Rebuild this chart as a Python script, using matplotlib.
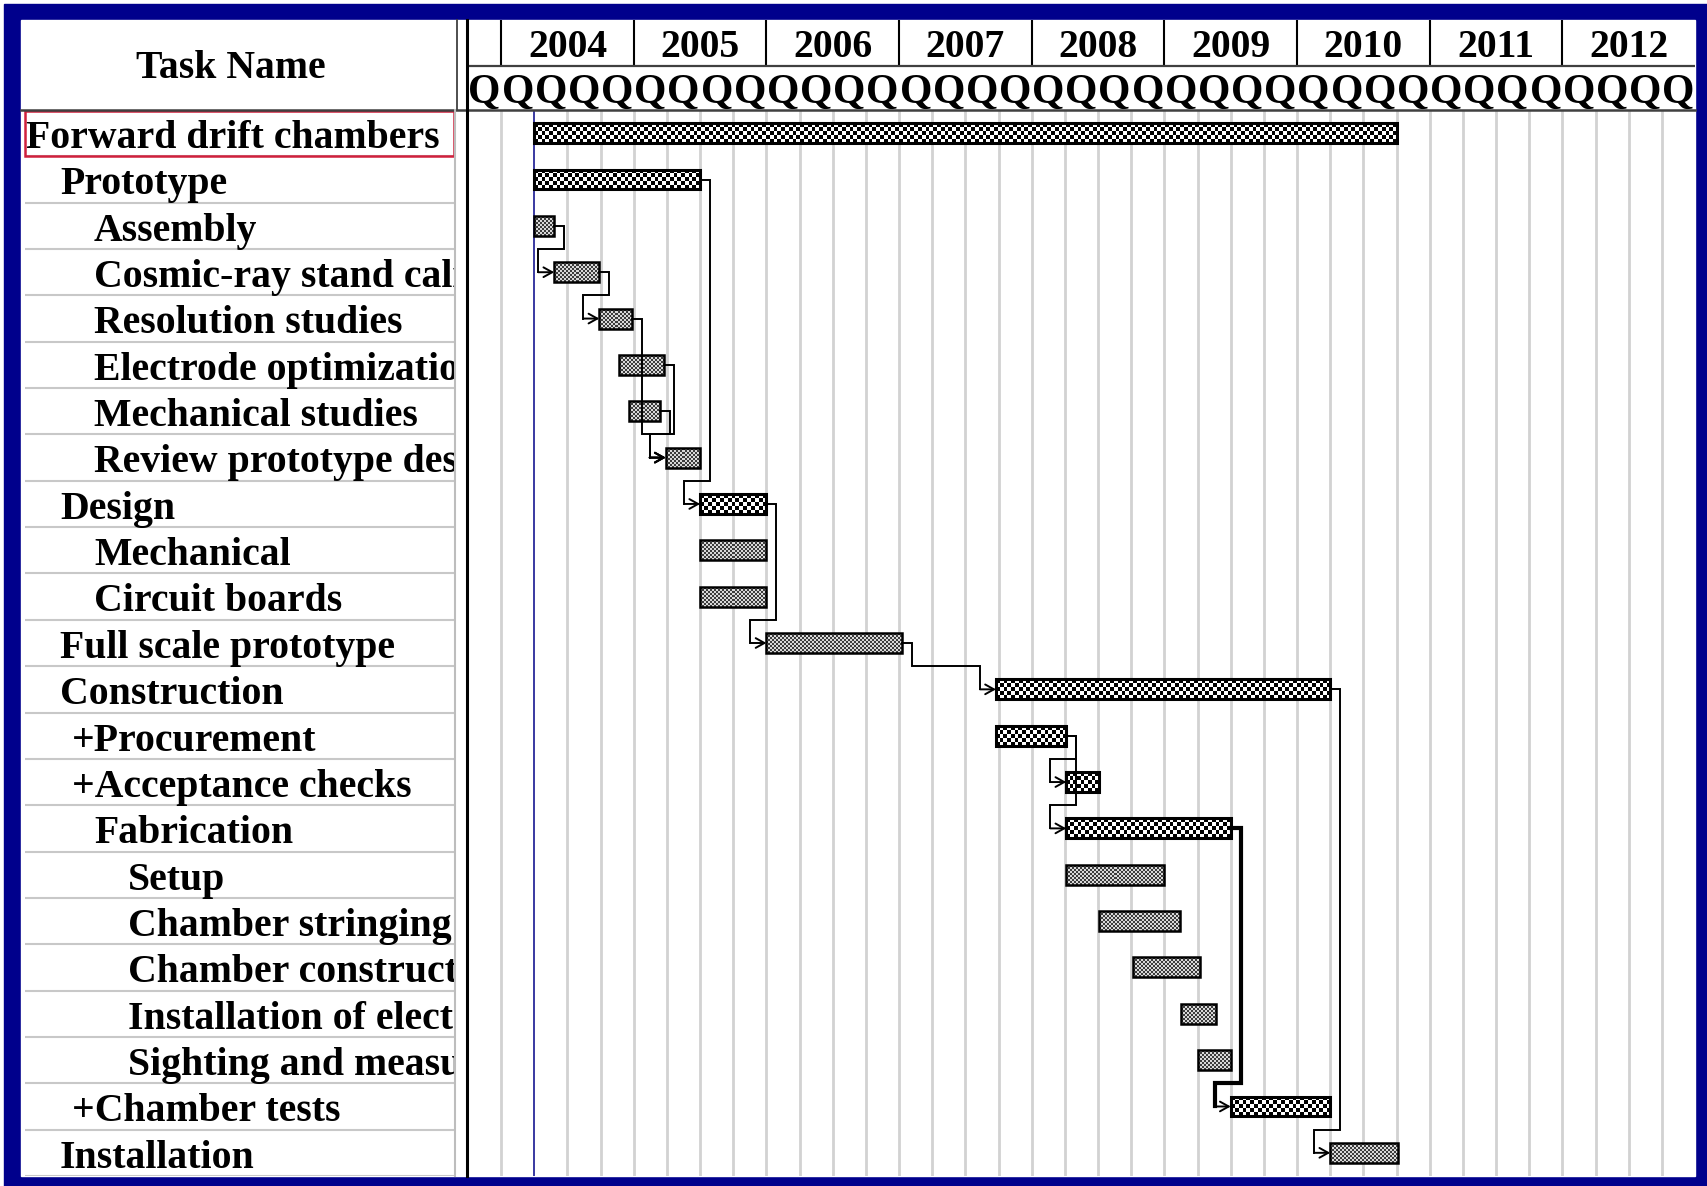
import numpy as np
import matplotlib
matplotlib.use("Agg")
import matplotlib.pyplot as plt
from matplotlib.patches import Rectangle
from matplotlib.lines import Line2D
from matplotlib.transforms import Affine2D

# ---------------- schedule data ----------------
task_names = [
    "Forward drift chambers", "Prototype", "Assembly", "Cosmic-ray stand calibration",
    "Resolution studies", "Electrode optimization", "Mechanical studies",
    "Review prototype design", "Design", "Mechanical", "Circuit boards",
    "Full scale prototype", "Construction", "+Procurement", "+Acceptance checks",
    "Fabrication", "Setup", "Chamber stringing", "Chamber construction",
    "Installation of electronics", "Sighting and measurements", "+Chamber tests",
    "Installation",
]
outline_level = [0, 1, 2, 2, 2, 2, 2, 2, 1, 2, 2, 1, 1, 2, 2, 2, 3, 3, 3, 3, 3, 2, 1]
is_summary = [1, 1, 0, 0, 0, 0, 0, 0, 1, 0, 0, 0, 1, 1, 1, 1, 0, 0, 0, 0, 0, 1, 0]
start_year = [2004.25, 2004.25, 2004.25, 2004.40, 2004.74, 2004.885, 2004.965,
              2005.24, 2005.50, 2005.50, 2005.50, 2006.00, 2007.73, 2007.73,
              2008.26, 2008.26, 2008.26, 2008.51, 2008.76, 2009.125, 2009.25,
              2009.50, 2010.25]
end_year = [2010.75, 2005.50, 2004.395, 2004.735, 2004.985, 2005.23, 2005.20,
            2005.50, 2006.00, 2006.00, 2006.00, 2007.02, 2010.25, 2008.26,
            2008.505, 2009.50, 2009.00, 2009.115, 2009.27, 2009.39, 2009.50,
            2010.25, 2010.76]
# finish-to-start dependencies (predecessor row, successor row)
links = [(2, 3), (3, 4), (4, 7), (5, 7), (6, 7), (1, 8), (8, 11), (11, 12),
         (13, 14), (13, 15), (15, 21), (12, 22)]
bold_links = [(15, 21)]
years = list(range(2004, 2013))
status_date = 2004.25
timeline = (2003.75, 2013.0)

# ---------------- layout (pixels) ----------------
W, H = 1708, 1186
NAVY = "#00008c"
FONT = "Liberation Serif"
LABEL_SIZE = 28.6
TAB_L, TAB_R = 25, 455
CH_L, CH_R = 468, 1695
HEAD_T, YEAR_B, HEAD_B, ROWS_B = 20, 66, 110, 1176
n = len(task_names)
row_px = (ROWS_B - HEAD_B) / n
px_per_year = (CH_R - CH_L) / (timeline[1] - timeline[0])

fig = plt.figure(figsize=(W / 100, H / 100), dpi=100)
fig.patch.set_facecolor("white")
px = Affine2D().scale(1 / W, -1 / H).translate(0, 1) + fig.transFigure


def frac(x0, y0, x1, y1):
    return [x0 / W, 1 - y1 / H, (x1 - x0) / W, (y1 - y0) / H]


# navy frame and white panel
fig.patches.append(Rectangle((4, 4), W - 4, H - 4, transform=px, color=NAVY, zorder=-3))
fig.patches.append(Rectangle((21, HEAD_T), CH_R - 21, ROWS_B - HEAD_T, transform=px,
                             color="white", zorder=-2))

# ---------------- task table ----------------
ax_tab = fig.add_axes(frac(21, HEAD_T, TAB_R, ROWS_B))
ax_tab.set_zorder(1)
ax_tab.set_xlim(21, TAB_R)
ax_tab.set_ylim(n, -(HEAD_B - HEAD_T) / row_px)
ax_tab.axis("off")

ax_tab.text(231, -(HEAD_B - 68) / row_px, "Task Name", ha="center",
            va="center", fontsize=LABEL_SIZE, fontweight="bold", family=FONT)
ax_tab.hlines(np.arange(1, n + 1), TAB_L, TAB_R, color="#c8c8c8", lw=1.5)
for i, (name, lvl) in enumerate(zip(task_names, outline_level)):
    x = 26 + 34 * lvl - (22 if name.startswith("+") else 0)
    ax_tab.text(x, i + 0.82, name, ha="left", va="baseline", fontsize=LABEL_SIZE,
                fontweight="bold", family=FONT, clip_on=True, clip_box=ax_tab.bbox)
ax_tab.add_patch(Rectangle((TAB_L, 0.02), TAB_R - TAB_L - 1, 0.97, fill=False,
                           ec="#d0203c", lw=1.8, zorder=5))

# ---------------- timescale header ----------------
ax_head = fig.add_axes(frac(CH_L, HEAD_T, CH_R, HEAD_B))
ax_head.set_zorder(1)
ax_head.set_xlim(*timeline)
ax_head.set_ylim(1, 0)
ax_head.axis("off")
ysplit = (YEAR_B - HEAD_T) / (HEAD_B - HEAD_T)
ax_head.vlines(years, 0, ysplit, color="black", lw=1.5)
ax_head.hlines(ysplit, *timeline, color="#404040", lw=1.6)
for y in years:
    ax_head.text(y + 0.5, ysplit / 2 + 0.045, str(y), ha="center", va="center",
                 fontsize=28.5, fontweight="bold", family=FONT)
quarters = np.arange(timeline[0], timeline[1], 0.25)
for q in quarters:
    ax_head.text(q + 0.125, (ysplit + 1) / 2 + 0.05, "Q", ha="center", va="center",
                 fontsize=30, fontweight="bold", family=FONT)

# ---------------- gantt area ----------------
ax = fig.add_axes(frac(CH_L, HEAD_B, CH_R, ROWS_B))
ax.set_zorder(1)
ax.axis("off")
grid = quarters[1:]
ax.vlines(grid[grid != status_date], 0, n, color="#d2d2d2", lw=2, zorder=1)
ax.vlines(status_date, 0, n, color="#2a2a9a", lw=1.3, zorder=2)

bar_h = 0.43
centers = np.arange(n) + 0.5


def checker(nx, ny, c0, c1):
    m = np.add.outer(np.arange(ny), np.arange(nx)) % 2
    a = np.array(matplotlib.colors.to_rgb(c0))
    b = np.array(matplotlib.colors.to_rgb(c1))
    return np.where(m[..., None] == 0, a, b)


for i in range(n):
    x0, x1 = start_year[i], end_year[i]
    wpx = (x1 - x0) * px_per_year
    hpx = bar_h * row_px
    if is_summary[i]:
        cell, c0, c1 = 3.8, "black", "white"
    else:
        cell, c0, c1 = 2.0, "#3c3c3c", "#d8d8d8"
    img = checker(max(1, round(wpx / cell)), max(1, round(hpx / cell)), c0, c1)
    ax.imshow(img, extent=(x0, x1, centers[i] + bar_h / 2, centers[i] - bar_h / 2),
              aspect="auto", interpolation="nearest", zorder=3)

ax.barh(centers, np.array(end_year) - np.array(start_year), left=start_year,
        height=bar_h, facecolor="none",
        edgecolor="black", linewidth=[2.2 if s else 1.8 for s in is_summary], zorder=4)

d_out = 10 / px_per_year
d_in = 16 / px_per_year
for p, s in links:
    xe, xs = end_year[p], start_year[s]
    lw = 3.0 if (p, s) in bold_links else 1.4
    xs_path = [xe, xe + d_out, xe + d_out, xs - d_in, xs - d_in]
    ys_path = [centers[p], centers[p], s, s, centers[s]]
    ax.plot(xs_path, ys_path, color="black", lw=lw, zorder=5,
            solid_joinstyle="miter")
    ax.annotate("", xy=(xs, centers[s]), xytext=(xs - d_in, centers[s]),
                arrowprops=dict(arrowstyle="->,head_length=0.45,head_width=0.25",
                                color="black", lw=1.4, shrinkA=0, shrinkB=0,
                                mutation_scale=14), zorder=6)

ax.set_xlim(*timeline)
ax.set_ylim(n, 0)

# ---------------- separators between table and chart ----------------
sep = dict(transform=px, zorder=3)
fig.lines.append(Line2D([21, CH_R], [HEAD_B, HEAD_B], color="#404040", lw=1.8, **sep))
fig.lines.append(Line2D([CH_L - 1, CH_L - 1], [HEAD_T, ROWS_B], color="black", lw=2.2, **sep))
fig.lines.append(Line2D([457, 457], [HEAD_T, HEAD_B], color="#404040", lw=1.3, **sep))
fig.lines.append(Line2D([455, 455], [HEAD_B, ROWS_B], color="#bdbdbd", lw=1.5, **sep))

fig.savefig("out.png", dpi=100, facecolor="white")
